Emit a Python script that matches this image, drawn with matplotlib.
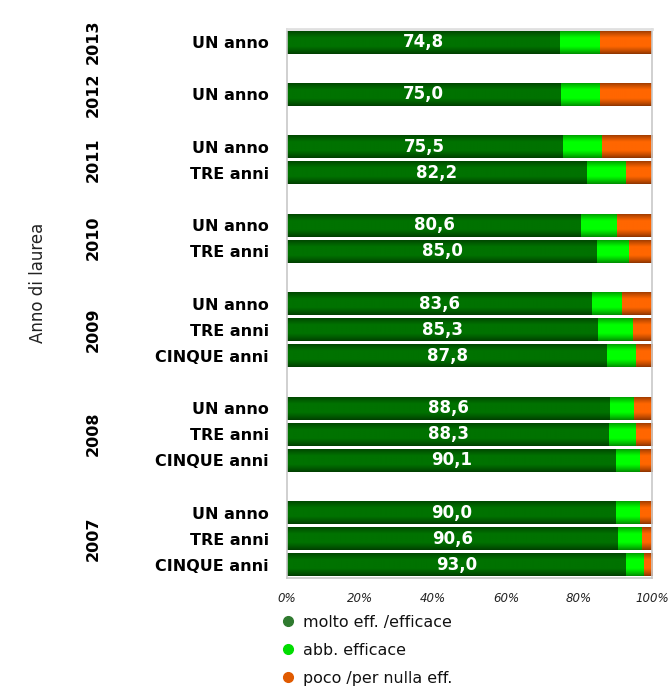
import numpy as np
import matplotlib
matplotlib.use("Agg")
import matplotlib.pyplot as plt
from matplotlib.lines import Line2D

# ---- data ----
years = ["2013", "2012", "2011", "2011", "2010", "2010", "2009", "2009", "2009",
         "2008", "2008", "2008", "2007", "2007", "2007"]
categories = ["UN anno", "UN anno", "UN anno", "TRE anni", "UN anno", "TRE anni",
              "UN anno", "TRE anni", "CINQUE anni", "UN anno", "TRE anni", "CINQUE anni",
              "UN anno", "TRE anni", "CINQUE anni"]
molto = [74.8, 75.0, 75.5, 82.2, 80.6, 85.0, 83.6, 85.3, 87.8, 88.6, 88.3, 90.1, 90.0, 90.6, 93.0]
abb = [11.0, 10.8, 10.8, 10.7, 9.9, 8.8, 8.2, 9.6, 7.8, 6.5, 7.3, 6.6, 6.7, 6.7, 4.8]
poco = [round(100 - m - a, 1) for m, a in zip(molto, abb)]
series_names = ["molto eff. /efficace", "abb. efficace", "poco /per nulla eff."]
xticks = [0, 20, 40, 60, 80, 100]
xtick_labels = ["0%", "20%", "40%", "60%", "80%", "100%"]
axis_label = "Anno di laurea"

# ---- layout: one empty slot between year groups ----
positions = []
slot = 0
prev = None
for y in years:
    if prev is not None and y != prev:
        slot += 1
    positions.append(slot)
    slot += 1
    prev = y
positions = np.array(positions, dtype=float)
nslots = slot

fig = plt.figure(figsize=(6.68, 6.86), dpi=100)
ax = fig.add_axes([287 / 668, 108 / 686, 365 / 668, (578 - 29) / 686])

edge_cols = [np.array([0x00, 0x3c, 0x00]), np.array([0x00, 0x88, 0x00]), np.array([0x8a, 0x33, 0x00])]
center_cols = [np.array([0x00, 0x72, 0x00]), np.array([0x00, 0xff, 0x00]), np.array([0xff, 0x66, 0x00])]

t = np.linspace(0, 1, 60)
prof = np.clip(np.minimum(t, 1 - t) / 0.32, 0, 1) ** 0.8

h = 0.88
lefts = np.zeros(len(molto))
for k, vals in enumerate([molto, abb, poco]):
    bars = ax.barh(positions, vals, left=lefts, height=h,
                   color="#%02x%02x%02x" % tuple(center_cols[k]), linewidth=0)
    grad = (edge_cols[k][None, :] + (center_cols[k] - edge_cols[k])[None, :] * prof[:, None]) / 255.0
    grad = grad[:, None, :]
    for p in bars.patches:
        x0, y0 = p.get_x(), p.get_y()
        w, hh = p.get_width(), p.get_height()
        im = ax.imshow(grad, extent=[x0, x0 + w, y0 + hh, y0], aspect="auto",
                       interpolation="bilinear", zorder=2)
        im.set_clip_path(p)
    lefts = lefts + np.array(vals)

ax.set_xlim(0, 100)
ax.set_ylim(nslots - 0.5, -0.5)

# value labels
for pos, m in zip(positions, molto):
    ax.text(m / 2, pos, ("%.1f" % m).replace(".", ","), color="white",
            fontsize=12, fontweight="bold", ha="center", va="center", zorder=3)

# category labels
ax.set_yticks(positions)
ax.set_yticklabels(categories, fontsize=11.5, fontweight="bold")
ax.tick_params(axis="y", length=0, pad=13)

# year labels
uniq = []
for y in years:
    if y not in uniq:
        uniq.append(y)
for y in uniq:
    ps = positions[[i for i, yy in enumerate(years) if yy == y]]
    yc = ps.mean()
    ax.text(-194 / 365 * 100, yc, y, rotation=90, fontsize=11.5, fontweight="bold",
            ha="center", va="center", transform=ax.transData, clip_on=False)

ax.set_xticks(xticks)
ax.set_xticklabels(xtick_labels, fontsize=8.5, fontstyle="italic", color="#222222")
ax.tick_params(axis="x", length=0, pad=10)

for s in ax.spines.values():
    s.set_color("#c8c8c8")
    s.set_linewidth(1.2)
ax.spines["top"].set_color("#e0e0e0")
ax.spines["top"].set_linewidth(2)

fig.text(38 / 668, 1 - 283 / 686, axis_label, rotation=90, fontsize=12,
         ha="center", va="center", color="#222222")

handles = [Line2D([], [], marker="o", linestyle="none", markersize=7, color=c)
           for c in ["#2f7a2f", "#00dd00", "#e05a00"]]
fig.legend(handles, series_names, loc="upper left", bbox_to_anchor=(278 / 668, 1 - 615 / 686),
           frameon=False, fontsize=11.4, handletextpad=0.35, labelspacing=0.82,
           borderaxespad=0, borderpad=0, handlelength=1.2, labelcolor="#111111")

fig.savefig("out.png", dpi=100)
